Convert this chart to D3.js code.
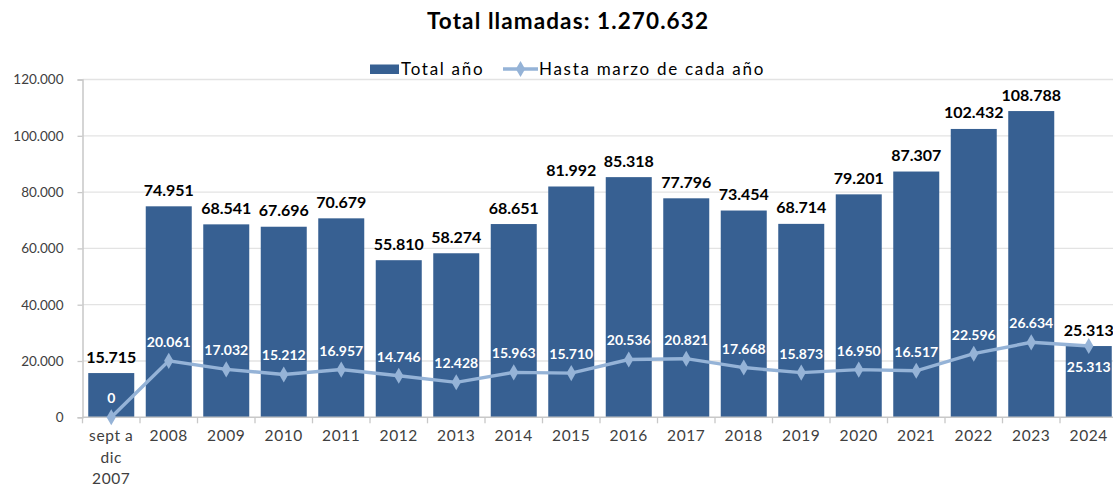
<!DOCTYPE html>
<html>
<head>
<meta charset="utf-8">
<script src="https://cdn.jsdelivr.net/npm/d3@7"></script>
<style>
  body { margin: 0; background: #fff; }
  svg { display: block; font-family: Lato, "DejaVu Sans", sans-serif; }
</style>
</head>
<body>
<svg id="chart"></svg>
<script>
// data
const categories = ["sept a dic 2007", "2008", "2009", "2010", "2011", "2012", "2013", "2014", "2015",
  "2016", "2017", "2018", "2019", "2020", "2021", "2022", "2023", "2024"];
const totalAnio = [15715, 74951, 68541, 67696, 70679, 55810, 58274, 68651, 81992,
  85318, 77796, 73454, 68714, 79201, 87307, 102432, 108788, 25313];
const hastaMarzo = [0, 20061, 17032, 15212, 16957, 14746, 12428, 15963, 15710,
  20536, 20821, 17668, 15873, 16950, 16517, 22596, 26634, 25313];
const yTicks = [0, 20000, 40000, 60000, 80000, 100000, 120000];
const titleText = "Total llamadas: 1.270.632";
const legendLabels = ["Total año", "Hasta marzo de cada año"];

const width = 1113, height = 486,
  margin = { top: 79.5, bottom: 68.7, left: 82.5, right: -4.5 };

const barColor = "#376092", lineColor = "#95b3d7", textColor = "#404040";

const es = d3.formatLocale({ decimal: ",", thousands: ".", grouping: [3], currency: ["", ""] });
const fmt = es.format(",d");

const svg = d3.select("#chart").attr("width", width).attr("height", height);

const xScale = d3.scaleBand()
  .domain(categories)
  .range([margin.left, width - margin.right])
  .paddingInner(0.2)
  .paddingOuter(0.1);

const yScale = d3.scaleLinear()
  .domain([0, 120000])
  .range([height - margin.bottom, margin.top]);

// gridlines
svg.append("g")
  .selectAll("line")
  .data(yTicks.slice(1))
  .join("line")
  .attr("x1", margin.left)
  .attr("x2", width)
  .attr("y1", d => yScale(d))
  .attr("y2", d => yScale(d))
  .attr("stroke", "#e3e3e3")
  .attr("stroke-width", 1.3);

// y axis
const yAxis = svg.append("g")
  .attr("transform", `translate(${margin.left},0)`)
  .call(d3.axisLeft(yScale).tickValues(yTicks).tickFormat(fmt).tickSize(5).tickPadding(14));
yAxis.select(".domain").attr("stroke", "#c8c8c8").attr("stroke-width", 1.5);
yAxis.selectAll(".tick line").attr("stroke", "#c8c8c8").attr("stroke-width", 1.3);
yAxis.selectAll("text").attr("font-size", 13.5).attr("fill", textColor).attr("font-family", "Lato");

// bars
svg.append("g")
  .selectAll("rect")
  .data(totalAnio)
  .join("rect")
  .attr("x", (d, i) => xScale(categories[i]))
  .attr("width", xScale.bandwidth())
  .attr("y", d => yScale(d))
  .attr("height", d => yScale(0) - yScale(d))
  .attr("fill", barColor);

// x axis
const step = xScale.step();
const xAxisG = svg.append("g")
  .attr("transform", `translate(0,${yScale(0)})`);
xAxisG.append("line")
  .attr("x1", margin.left).attr("x2", width)
  .attr("stroke", "#c8c8c8").attr("stroke-width", 1.5);
xAxisG.selectAll(".tk")
  .data(d3.range(categories.length + 1))
  .join("line")
  .attr("class", "tk")
  .attr("x1", i => margin.left + i * step)
  .attr("x2", i => margin.left + i * step)
  .attr("y1", 0).attr("y2", 6)
  .attr("stroke", "#c8c8c8").attr("stroke-width", 1.3);

const xLabels = xAxisG.selectAll(".xl")
  .data(categories)
  .join("text")
  .attr("class", "xl")
  .attr("text-anchor", "middle")
  .attr("font-size", 15.5)
  .attr("letter-spacing", 0.6)
  .attr("fill", textColor)
  .attr("x", d => xScale(d) + xScale.bandwidth() / 2);
xLabels.each(function (d) {
  const lines = d === "sept a dic 2007" ? ["sept a", "dic", "2007"] : [d];
  d3.select(this).selectAll("tspan")
    .data(lines)
    .join("tspan")
    .attr("x", xScale(d) + xScale.bandwidth() / 2)
    .attr("y", (l, j) => 24 + j * 21.3)
    .text(l => l);
});

// line
const cx = i => xScale(categories[i]) + xScale.bandwidth() / 2;
const line = d3.line()
  .x((d, i) => cx(i))
  .y(d => yScale(d));

svg.append("path")
  .datum(hastaMarzo)
  .attr("d", line)
  .attr("fill", "none")
  .attr("stroke", lineColor)
  .attr("stroke-width", 3.4);

const diamond = d3.symbol().type(d3.symbolDiamond).size(75);
svg.append("g")
  .selectAll("path")
  .data(hastaMarzo)
  .join("path")
  .attr("d", diamond)
  .attr("transform", (d, i) => `translate(${cx(i)},${yScale(d)})`)
  .attr("fill", lineColor);

// bar labels
svg.append("g")
  .selectAll("text")
  .data(totalAnio)
  .join("text")
  .attr("x", (d, i) => cx(i))
  .attr("y", d => yScale(d) - 10.5)
  .attr("text-anchor", "middle")
  .attr("font-size", 16)
  .attr("font-weight", "bold")
  .attr("fill", "#000")
  .text(d => fmt(d));

// line labels
const last = hastaMarzo.length - 1;
svg.append("g")
  .selectAll("text")
  .data(hastaMarzo)
  .join("text")
  .attr("x", (d, i) => cx(i))
  .attr("y", (d, i) => i === last ? yScale(d) + 26 : yScale(d) - 14)
  .attr("text-anchor", "middle")
  .attr("font-size", 14)
  .attr("font-weight", "bold")
  .attr("fill", "#fff")
  .text(d => fmt(d));

// title
svg.append("text")
  .attr("x", 568)
  .attr("y", 29)
  .attr("text-anchor", "middle")
  .attr("font-size", 22.5)
  .attr("letter-spacing", 1.1)
  .attr("font-weight", "bold")
  .attr("fill", "#000")
  .text(titleText);

// legend
const legend = svg.append("g").attr("font-size", 17).attr("letter-spacing", 1.7).attr("fill", "#000");
legend.append("rect")
  .attr("x", 370).attr("y", 64.5).attr("width", 29).attr("height", 9.5)
  .attr("fill", barColor);
legend.append("text").attr("x", 401).attr("y", 75).text(legendLabels[0]);
legend.append("line")
  .attr("x1", 503).attr("x2", 538).attr("y1", 69).attr("y2", 69)
  .attr("stroke", lineColor).attr("stroke-width", 3.4);
legend.append("path")
  .attr("d", diamond)
  .attr("transform", "translate(520.5,69)")
  .attr("fill", lineColor);
legend.append("text").attr("x", 539).attr("y", 75).text(legendLabels[1]);
</script>
</body>
</html>
